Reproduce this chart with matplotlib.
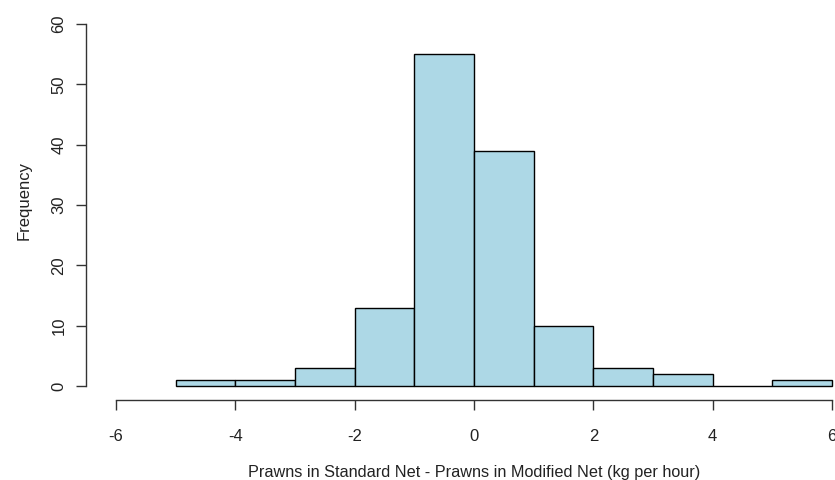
import matplotlib
matplotlib.use('agg')
import matplotlib.pyplot as plt
import numpy as np

plt.rcParams['font.family'] = ['Liberation Sans', 'DejaVu Sans']

# histogram bins (kg per hour) and counts
bin_edges = [-5, -4, -3, -2, -1, 0, 1, 2, 3, 4, 5, 6]
counts = [1, 1, 3, 13, 55, 39, 10, 3, 2, 0, 1]
x_ticks = [-6, -4, -2, 0, 2, 4, 6]
y_ticks = [0, 10, 20, 30, 40, 50, 60]

fig = plt.figure(figsize=(8.35, 4.8), dpi=100)
ax = fig.add_axes([86 / 835, 80 / 480, 1 - 86 / 835, 400 / 480])

ax.hist(bin_edges[:-1], bins=bin_edges, weights=counts,
        color='#ADD8E6', edgecolor='black', linewidth=1.0)

ax.set_xlim(-6.503, 6.05)
ax.set_ylim(-2.32, 63.98)

for s in ['top', 'right']:
    ax.spines[s].set_visible(False)
ax.spines['left'].set_bounds(0, 60)
ax.spines['bottom'].set_bounds(-6, 6)
for s in ['left', 'bottom']:
    ax.spines[s].set_color('#333333')
    ax.spines[s].set_linewidth(1.0)

ax.set_xticks(x_ticks)
ax.set_xticklabels([str(v) for v in x_ticks])
ax.set_yticks(y_ticks)
ax.set_yticklabels([str(v) for v in y_ticks], rotation=90, va='center')
ax.tick_params(axis='both', length=7.2, width=1.0, color='#333333',
               labelsize=12, labelcolor='#222222')
ax.tick_params(axis='x', pad=14)
ax.tick_params(axis='y', pad=7)

ax.set_xlabel('Prawns in Standard Net - Prawns in Modified Net (kg per hour)',
              fontsize=11.7, color='#222222', labelpad=15)
# centre the x label under the drawn axis (x = 0), like R does
ax.xaxis.label.set_x((0 - ax.get_xlim()[0]) / (ax.get_xlim()[1] - ax.get_xlim()[0]))
ax.set_ylabel('Frequency', fontsize=12, color='#222222', labelpad=14)

fig.savefig('out.png', dpi=100)
